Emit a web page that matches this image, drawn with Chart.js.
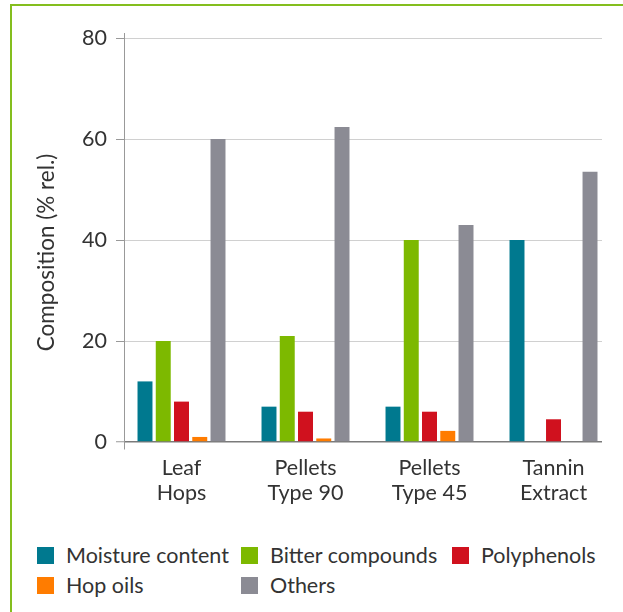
<!DOCTYPE html>
<html>
<head>
<meta charset="utf-8">
<script src="https://cdn.jsdelivr.net/npm/chart.js@4.4.1/dist/chart.umd.min.js"></script>
<style>
  html, body { margin: 0; padding: 0; background: #fff; }
  body { width: 623px; height: 612px; position: relative; overflow: hidden; font-family: Lato, "Open Sans", sans-serif; }
  #frame { position: absolute; left: 10px; top: 4px; width: 640px; height: 640px; border-top: 2px solid #84BE1E; border-left: 2px solid #84BE1E; box-sizing: border-box; }
  #wrap { position: absolute; left: 0; top: 0; width: 623px; height: 520px; }
  #legend { position: absolute; left: 37px; top: 543px; display: grid; grid-template-columns: 204px 211px auto; row-gap: 6px; }
  .item { display: flex; align-items: center; font-size: 21.5px; color: #333; height: 24px; white-space: nowrap; }
  .box { width: 17px; height: 17px; margin-right: 12px; flex: none; }
</style>
</head>
<body>
<div id="frame"></div>
<div id="wrap"><canvas id="c" width="623" height="520"></canvas></div>
<div id="legend"></div>
<script>
const categories = [["Leaf", "Hops"], ["Pellets", "Type 90"], ["Pellets", "Type 45"], ["Tannin", "Extract"]];
const seriesNames = ["Moisture content", "Bitter compounds", "Polyphenols", "Hop oils", "Others"];
const moisture = [12, 7, 7, 40];
const bitter = [20, 21, 40, 0];
const polyphenols = [8, 6, 6, 4.5];
const hopOils = [1, 0.7, 2.2, 0];
const others = [60, 62.4, 43, 53.5];
const yTicks = [0, 20, 40, 60, 80];
const yTitle = "Composition (% rel.)";
const colors = ["#00798F", "#7DB900", "#D0111E", "#FF7C00", "#8B8B94"];

// category slots on a linear x axis (index positions)
const X_MIN = -0.4637, X_MAX = 3.391;
const Y_MIN = -1.386, Y_MAX = 81;

const values = [moisture, bitter, polyphenols, hopOils, others];
const datasets = seriesNames.map((n, i) => ({
  label: n,
  data: values[i].map((v, k) => ({ x: k, y: v })),
  backgroundColor: colors[i],
  borderWidth: 0,
  base: 0,
  barPercentage: 0.82,
  categoryPercentage: 0.736
}));

Chart.defaults.font.family = 'Lato, "Open Sans", sans-serif';
Chart.defaults.color = '#333';
const FS = 21.5;

const chart = new Chart(document.getElementById('c'), {
  type: 'bar',
  data: { datasets },
  options: {
    responsive: false,
    animation: false,
    layout: { padding: { left: 0, right: 21, top: 33, bottom: 0 } },
    plugins: { legend: { display: false }, tooltip: { enabled: false } },
    scales: {
      x: {
        type: 'linear',
        offset: false,
        min: X_MIN,
        max: X_MAX,
        afterBuildTicks: (axis) => { axis.ticks = categories.map((c, i) => ({ value: i })); },
        afterFit: (s) => { s.height = 71; },
        grid: { display: false, drawTicks: false, offset: false },
        border: { display: false },
        ticks: {
          font: { size: FS, lineHeight: 25 / FS },
          color: '#333',
          padding: 7,
          maxRotation: 0,
          autoSkip: false,
          callback: (v) => (Number.isInteger(v) && categories[v]) ? categories[v] : ''
        }
      },
      y: {
        min: Y_MIN,
        max: Y_MAX,
        afterBuildTicks: (axis) => { axis.ticks = yTicks.map(v => ({ value: v })); },
        afterFit: (s) => { s.width = 124; },
        grid: {
          color: (ctx) => (ctx.tick && ctx.tick.value === 0) ? '#7a7a7a' : '#D0D0D0',
          lineWidth: (ctx) => (ctx.tick && ctx.tick.value === 0) ? 1.5 : 1,
          tickColor: '#999',
          tickWidth: 1,
          tickLength: 8,
          drawTicks: true
        },
        border: { display: true, color: '#999', width: 1 },
        ticks: { font: { size: FS }, color: '#333', padding: 9 },
        title: { display: true, text: yTitle + '\u00A0\u00A0\u00A0\u00A0', font: { size: 22.5 }, color: '#333', padding: { top: 33, bottom: 0 } }
      }
    }
  }
});

const legend = document.getElementById('legend');
chart.data.datasets.forEach(ds => {
  const it = document.createElement('div');
  it.className = 'item';
  const b = document.createElement('span');
  b.className = 'box';
  b.style.background = ds.backgroundColor;
  const t = document.createElement('span');
  t.textContent = ds.label;
  it.appendChild(b); it.appendChild(t);
  legend.appendChild(it);
});
</script>
</body>
</html>
